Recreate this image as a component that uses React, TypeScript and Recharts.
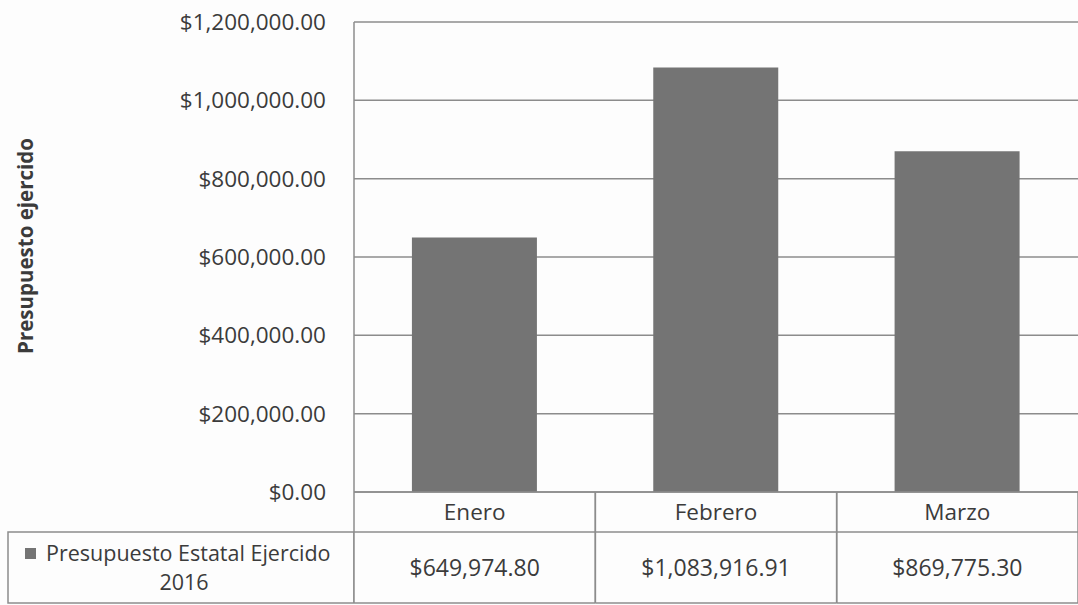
import { BarChart, Bar, XAxis, YAxis, CartesianGrid } from "recharts";

const MONTHS = ["Enero", "Febrero", "Marzo"];
const BUDGET = [649974.8, 1083916.91, 869775.3];
const Y_TICKS = [0, 200000, 400000, 600000, 800000, 1000000, 1200000];
const SERIES_NAME = "Presupuesto Estatal Ejercido";
const SERIES_YEAR = "2016";
const Y_LABEL = "Presupuesto ejercido";

const W = 1078;
const H = 605;
const PLOT_LEFT = 354;
const PLOT_TOP = 22;
const PLOT_BOTTOM = 492;
const HEADER_BOTTOM = 532;
const TABLE_BOTTOM = 603;
const BAND = (W - PLOT_LEFT) / MONTHS.length;

const FONT = "'Open Sans', sans-serif";
const TEXT = "#3b3b3b";
const LINE = "#8c8c8c";
const BAR = "#747474";

const money = (v: number) =>
  "$" + v.toLocaleString("en-US", { minimumFractionDigits: 2, maximumFractionDigits: 2 });

const data = MONTHS.map((m, i) => ({ name: m, value: BUDGET[i] }));

function TableTick(props: any) {
  const { x, payload } = props;
  const i = payload.index;
  const left = x - BAND / 2;
  const right = x + BAND / 2;
  return (
    <g>
      <line x1={left} y1={PLOT_BOTTOM} x2={left} y2={TABLE_BOTTOM} stroke={LINE} strokeWidth={1.5} />
      <line x1={right} y1={PLOT_BOTTOM} x2={right} y2={TABLE_BOTTOM} stroke={LINE} strokeWidth={1.5} />
      <line x1={left} y1={HEADER_BOTTOM} x2={right} y2={HEADER_BOTTOM} stroke={LINE} strokeWidth={1.5} />
      <line x1={left} y1={TABLE_BOTTOM} x2={right} y2={TABLE_BOTTOM} stroke={LINE} strokeWidth={1.5} />
      <text x={x} y={520} textAnchor="middle" fill={TEXT} fontSize={22.5} fontFamily={FONT}>
        {payload.value}
      </text>
      <text x={x} y={576} textAnchor="middle" fill={TEXT} fontSize={23} fontFamily={FONT}>
        {money(BUDGET[i])}
      </text>
    </g>
  );
}

export default function App() {
  return (
    <div style={{ position: "relative", width: W, height: H, background: "#fdfdfd" }}>
      <style>{"body{margin:0}"}</style>
      <BarChart
        width={W}
        height={H}
        data={data}
        margin={{ top: PLOT_TOP, right: 0, left: 0, bottom: 0 }}
        barCategoryGap="24%"
      >
        <CartesianGrid vertical={false} stroke={LINE} strokeWidth={1.5} />
        <XAxis
          dataKey="name"
          height={H - PLOT_BOTTOM}
          axisLine={{ stroke: LINE, strokeWidth: 1.5 }}
          tickLine={false}
          interval={0}
          tick={<TableTick />}
        />
        <YAxis
          width={PLOT_LEFT}
          domain={[0, 1200000]}
          ticks={Y_TICKS}
          tickFormatter={money}
          axisLine={{ stroke: LINE, strokeWidth: 1.5 }}
          tickLine={false}
          tickMargin={22}
          tick={{ fill: TEXT, fontSize: 22.5, fontFamily: FONT }}
        />
        <Bar dataKey="value" fill={BAR} isAnimationActive={false} />
      </BarChart>
      <svg
        width={PLOT_LEFT}
        height={H}
        style={{ position: "absolute", left: 0, top: 0, pointerEvents: "none" }}
      >
        <text
          x={0}
          y={0}
          transform="translate(33 246) rotate(-90)"
          textAnchor="middle"
          fill={TEXT}
          fontSize={20.5}
          fontWeight="bold"
          fontFamily={FONT}
        >
          {Y_LABEL}
        </text>
        <rect
          x={8}
          y={HEADER_BOTTOM}
          width={PLOT_LEFT - 8}
          height={TABLE_BOTTOM - HEADER_BOTTOM}
          fill="none"
          stroke={LINE}
          strokeWidth={1.5}
        />
        <rect x={25} y={548} width={11} height={11} fill={BAR} />
        <text x={46} y={561} fill={TEXT} fontSize={21.5} fontFamily={FONT}>
          {SERIES_NAME}
        </text>
        <text x={184} y={590} textAnchor="middle" fill={TEXT} fontSize={21.5} fontFamily={FONT}>
          {SERIES_YEAR}
        </text>
      </svg>
    </div>
  );
}
